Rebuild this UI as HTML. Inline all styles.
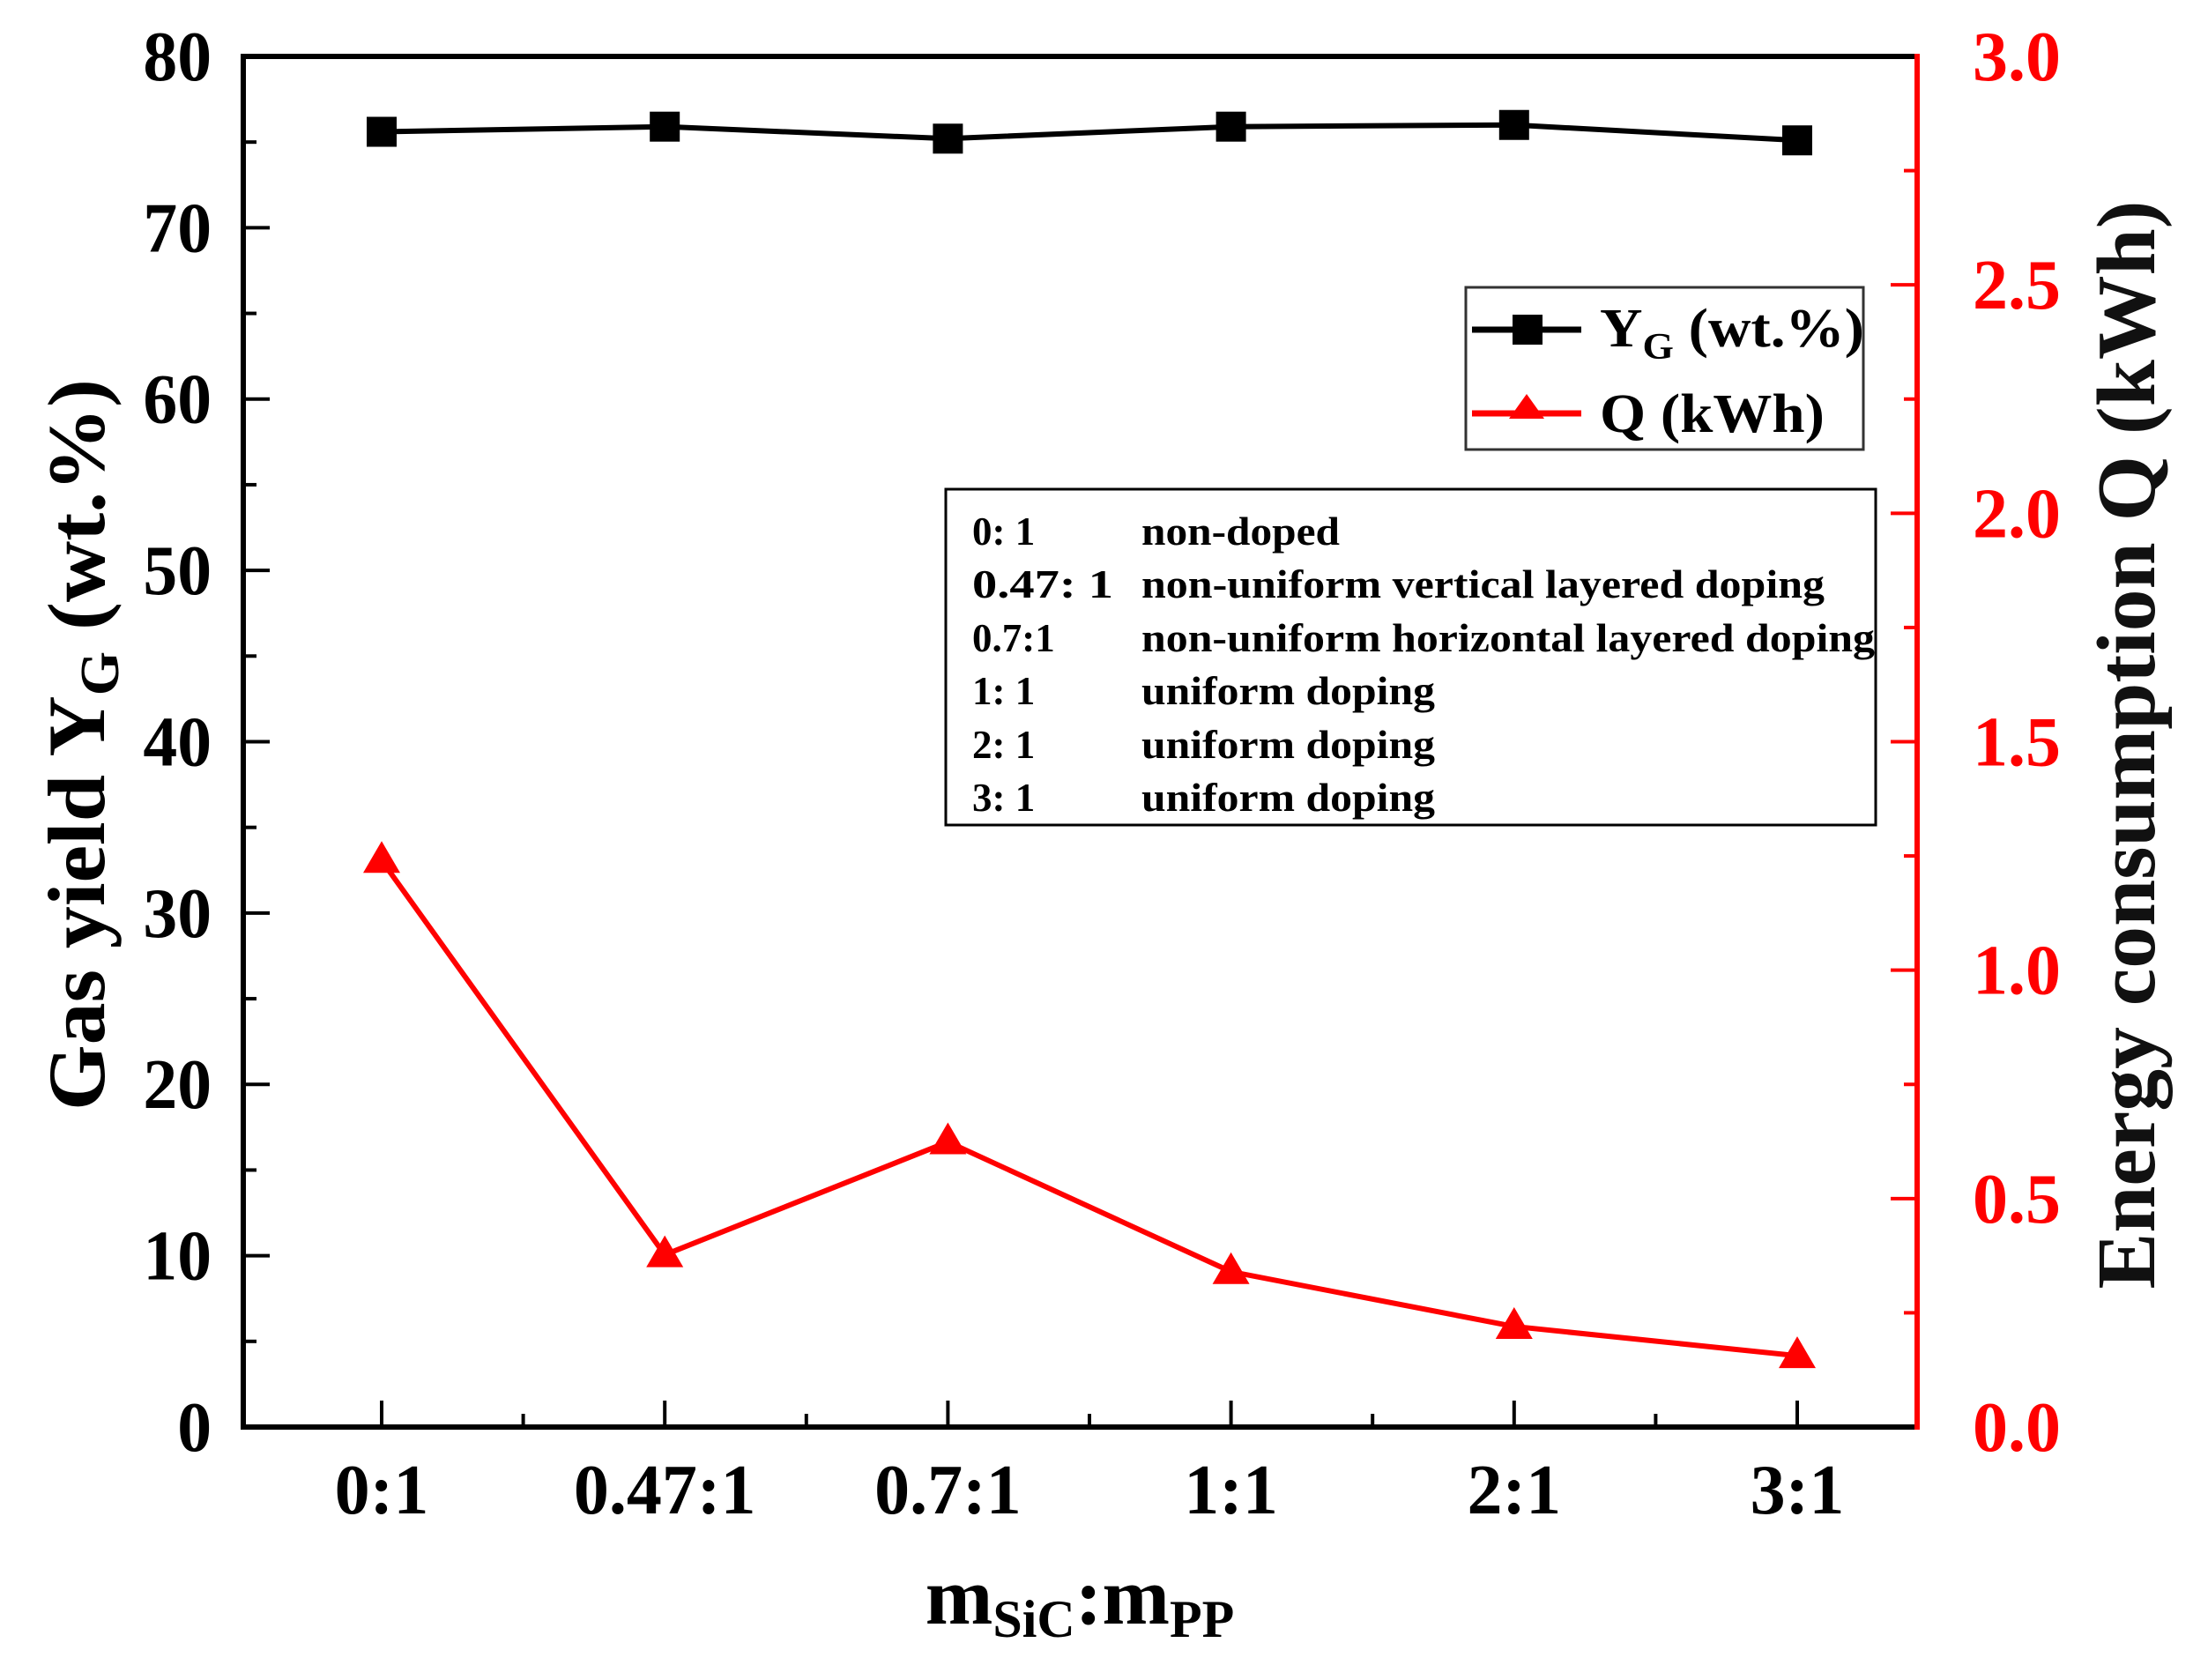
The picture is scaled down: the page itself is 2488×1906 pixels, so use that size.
<!DOCTYPE html>
<html><head><meta charset="utf-8"><style>
html,body{margin:0;padding:0;background:#fff;}
svg{display:block;font-family:"Liberation Serif",serif;font-weight:bold;}
</style></head><body>
<svg id="chart" width="2488" height="1906" viewBox="0 0 2488 1906" xmlns="http://www.w3.org/2000/svg">
<rect x="0" y="0" width="2488" height="1906" fill="#fff"/>
<g id="ticks"></g>
<g id="series"></g>
<g id="axes"></g>
<g id="labels"></g>
<g>
<rect x="1663" y="326" width="451" height="184" fill="#fff" stroke="#333" stroke-width="3"/>
<line x1="1670" y1="374" x2="1794" y2="374" stroke="#000" stroke-width="7"/>
<rect x="1716" y="357" width="34" height="34" fill="#000"/>
<text x="1815" y="393" font-size="62" textLength="300" lengthAdjust="spacingAndGlyphs">Y<tspan font-size="42" dy="14">G</tspan><tspan dy="-14"> (wt.%)</tspan></text>
<line x1="1670" y1="469" x2="1794" y2="469" stroke="red" stroke-width="7"/>
<polygon points="1732,447 1752,475 1712,475" fill="red"/>
<text x="1815" y="490" font-size="62" textLength="255" lengthAdjust="spacingAndGlyphs">Q (kWh)</text>
</g>
<g font-size="45">
<rect x="1073" y="555" width="1055" height="381" fill="#fff" stroke="#000" stroke-width="3"/>
<text x="1103" y="618">0:  1</text><text x="1295" y="618" textLength="225" lengthAdjust="spacingAndGlyphs">non-doped</text>
<text x="1103" y="678" textLength="160" lengthAdjust="spacingAndGlyphs">0.47:  1</text><text x="1295" y="678" textLength="775" lengthAdjust="spacingAndGlyphs">non-uniform vertical layered doping</text>
<text x="1103" y="739">0.7:1</text><text x="1295" y="739" textLength="832" lengthAdjust="spacingAndGlyphs">non-uniform horizontal layered doping</text>
<text x="1103" y="799">1:  1</text><text x="1295" y="799" textLength="333" lengthAdjust="spacingAndGlyphs">uniform doping</text>
<text x="1103" y="860">2:  1</text><text x="1295" y="860" textLength="333" lengthAdjust="spacingAndGlyphs">uniform doping</text>
<text x="1103" y="920">3:  1</text><text x="1295" y="920" textLength="333" lengthAdjust="spacingAndGlyphs">uniform doping</text>
</g>
<text x="1225" y="1842" font-size="92" text-anchor="middle">m<tspan font-size="60" dy="15">SiC</tspan><tspan dy="-15">:m</tspan><tspan font-size="60" dy="15">PP</tspan></text>
<text transform="translate(118,845) rotate(-90)" font-size="92" text-anchor="middle" textLength="830" lengthAdjust="spacingAndGlyphs">Gas yield Y<tspan font-size="62" dy="16">G</tspan><tspan dy="-16"> (wt.%)</tspan></text>
<text transform="translate(2444,845) rotate(-90)" font-size="94" text-anchor="middle" fill="#111" textLength="1235" lengthAdjust="spacingAndGlyphs">Energy consumption Q (kWh)</text>
</svg>
<script>
const categories = ["0:1","0.47:1","0.7:1","1:1","2:1","3:1"];
const yieldValues = [75.6, 75.9, 75.2, 75.9, 76.0, 75.1];
const energyValues = [1.24, 0.377, 0.624, 0.34, 0.22, 0.156];
const leftTicks = [0,10,20,30,40,50,60,70,80];
const rightTicks = ["0.0","0.5","1.0","1.5","2.0","2.5","3.0"];

const NS = "http://www.w3.org/2000/svg";
const L = 276, R = 2175, T = 64, B = 1619;
const X0 = 433, DX = 321.2;
function xPos(i){ return X0 + i*DX; }
function yLeft(v){ return B - (v/80)*(B-T); }
function yRight(v){ return B - (v/3)*(B-T); }
function mk(tag, attrs, parent){
  const e = document.createElementNS(NS, tag);
  for (const k in attrs) e.setAttribute(k, attrs[k]);
  parent.appendChild(e); return e;
}
const gT = document.getElementById('ticks'), gS = document.getElementById('series'),
      gA = document.getElementById('axes'), gL = document.getElementById('labels');

let a;
a = mk('line',{x1:L,y1:T,x2:R,y2:T,stroke:'#000','stroke-width':6},gA);


a = mk('line',{x1:L,y1:T-3,x2:L,y2:B+3,stroke:'#000','stroke-width':6},gA);


a = mk('line',{x1:L,y1:B,x2:R,y2:B,stroke:'#000','stroke-width':6},gA);


a = mk('line',{x1:R,y1:T-3,x2:R,y2:B+3,stroke:'red','stroke-width':6},gA);



leftTicks.forEach((v,i)=>{
  const y = yLeft(v);
  const t = mk('line',{x1:L,y1:y,x2:L+30,y2:y,stroke:'#000','stroke-width':4},gT);
  
  
  if (i < leftTicks.length-1){
    const ym = yLeft(v+5);
    const m = mk('line',{x1:L,y1:ym,x2:L+15,y2:ym,stroke:'#000','stroke-width':4},gT);
    
    
  }
  const lb = mk('text',{x:240,y:y+27,'font-size':80,'text-anchor':'end'},gL);
  lb.setAttribute('transform',`translate(240,0) scale(0.97,1) translate(-240,0)`);
  lb.textContent = v;
  
  
});
rightTicks.forEach((s,i)=>{
  const v = parseFloat(s), y = yRight(v);
  const t = mk('line',{x1:R,y1:y,x2:R-30,y2:y,stroke:'red','stroke-width':4},gT);
  
  
  if (i < rightTicks.length-1){
    const ym = yRight(v+0.25);
    const m = mk('line',{x1:R,y1:ym,x2:R-15,y2:ym,stroke:'red','stroke-width':4},gT);
    
    
  }
  const lb = mk('text',{x:2238,y:y+27,'font-size':80,fill:'red'},gL);
  lb.textContent = s;
  
  
});
categories.forEach((c,i)=>{
  const x = xPos(i);
  const t = mk('line',{x1:x,y1:B,x2:x,y2:B-30,stroke:'#000','stroke-width':4},gT);
  
  
  if (i < categories.length-1){
    const xm = x + DX/2;
    const m = mk('line',{x1:xm,y1:B,x2:xm,y2:B-15,stroke:'#000','stroke-width':4},gT);
    
    
  }
  const lb = mk('text',{x:x,y:1717,'font-size':80,'text-anchor':'middle'},gL);
  lb.textContent = c;
  
  
});
const yp = yieldValues.map((v,i)=>xPos(i)+','+yLeft(v)).join(' ');
const yl = mk('polyline',{points:yp,fill:'none',stroke:'#000','stroke-width':6},gS);


yieldValues.forEach((v,i)=>{
  const r = mk('rect',{x:xPos(i)-17,y:yLeft(v)-17,width:34,height:34,fill:'#000'},gS);
  
  
});
const ep = energyValues.map((v,i)=>xPos(i)+','+yRight(v)).join(' ');
const el = mk('polyline',{points:ep,fill:'none',stroke:'red','stroke-width':6},gS);


energyValues.forEach((v,i)=>{
  const x = xPos(i), y = yRight(v);
  const p = mk('polygon',{points:`${x},${y-22} ${x+21},${y+14} ${x-21},${y+14}`,fill:'red'},gS);
  
  
});
</script>
</body></html>
